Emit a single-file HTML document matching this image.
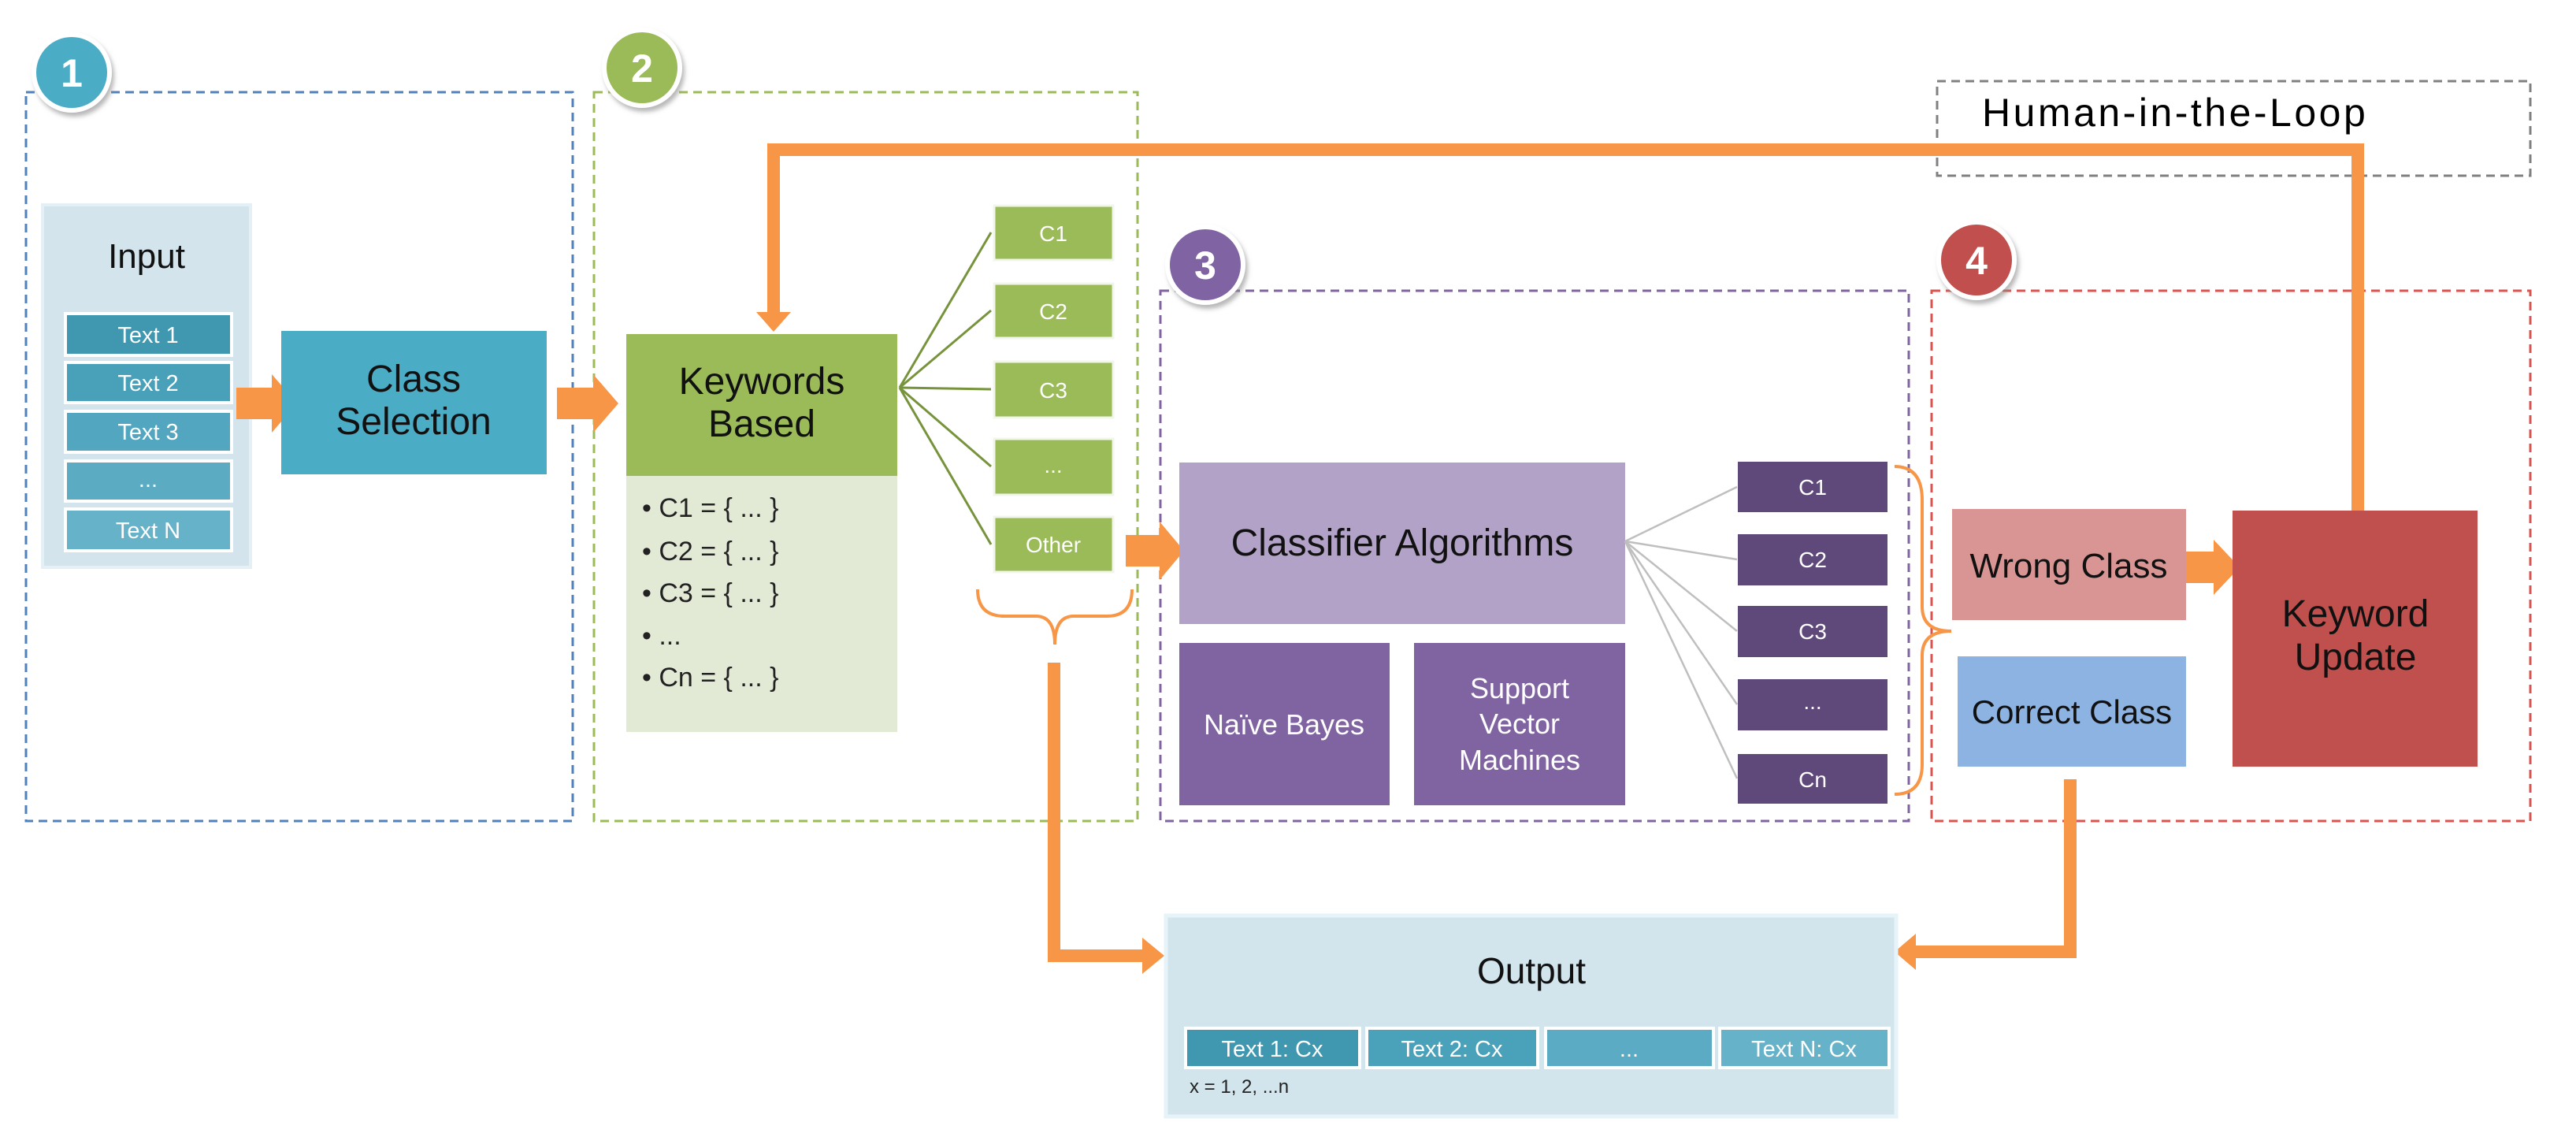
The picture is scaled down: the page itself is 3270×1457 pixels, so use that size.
<!DOCTYPE html>
<html><head><meta charset="utf-8"><style>
html,body{margin:0;padding:0;background:#fff;}
svg{display:block;}
text{font-family:"Liberation Sans",sans-serif;}
</style></head><body>
<svg width="3270" height="1457" viewBox="0 0 3270 1457" xmlns="http://www.w3.org/2000/svg">
<defs>
<filter id="sh" x="-30%" y="-30%" width="160%" height="160%"><feDropShadow dx="3" dy="5" stdDeviation="3" flood-color="#888" flood-opacity="0.6"/></filter>
</defs>
<g fill="none" stroke-width="3" stroke-dasharray="11 7">
<rect x="33" y="117" width="694" height="925" stroke="#4f81bd"/>
<rect x="754" y="117" width="690" height="925" stroke="#9bbb59"/>
<rect x="1473" y="369" width="950" height="673" stroke="#8064a2"/>
<rect x="2452" y="369" width="760" height="673" stroke="#d9534f"/>
<rect x="2459" y="103" width="753" height="120" stroke="#808080"/>
</g>
<text x="2516" y="160" font-size="50" letter-spacing="3.5" fill="#000">Human-in-the-Loop</text>

<!-- circles -->
<g filter="url(#sh)" stroke="#fff" stroke-width="6">
<circle cx="91" cy="92" r="48" fill="#4bacc6"/>
<circle cx="815" cy="86" r="48" fill="#9bbb59"/>
<circle cx="1530" cy="336" r="48" fill="#8064a2"/>
<circle cx="2509" cy="330" r="48" fill="#c0504d"/>
</g>
<g font-size="50" font-weight="bold" fill="#fff" text-anchor="middle">
<text x="91" y="110">1</text><text x="815" y="104">2</text><text x="1530" y="354">3</text><text x="2509" y="348">4</text>
</g>

<!-- Input -->
<rect x="54" y="260" width="264" height="460" fill="#d3e4ec" stroke="#e4f0f5" stroke-width="4"/>
<text x="186" y="340" font-size="44" text-anchor="middle" fill="#111">Input</text>
<g stroke="#fff" stroke-width="4">
<rect x="83" y="398" width="211" height="53" fill="#3f97b0"/>
<rect x="83" y="460" width="211" height="51" fill="#49a0b9"/>
<rect x="83" y="522" width="211" height="52" fill="#52a6bf"/>
<rect x="83" y="585" width="211" height="51" fill="#5babc3"/>
<rect x="83" y="646" width="211" height="53" fill="#66b2c9"/>
</g>
<g font-size="29" fill="#fff" text-anchor="middle">
<text x="188" y="435">Text 1</text><text x="188" y="496">Text 2</text><text x="188" y="558">Text 3</text><text x="188" y="618">...</text><text x="188" y="683">Text N</text>
</g>

<!-- block arrows -->
<g fill="#f79646">
<polygon points="300,492 345,492 345,475 377,512 345,549 345,532 300,532"/>
<polygon points="707,492 753,492 753,475 785,512 753,549 753,532 707,532"/>
<polygon points="1429,679 1472,679 1472,662 1503,699 1472,736 1472,719 1429,719"/>
<polygon points="2772,700 2810,700 2810,685 2843,720 2810,755 2810,740 2772,740"/>
</g>

<!-- Class Selection -->
<rect x="357" y="420" width="337" height="182" fill="#4bacc6"/>
<text x="525" y="497" font-size="48" text-anchor="middle" fill="#111">Class</text>
<text x="525" y="551" font-size="48" text-anchor="middle" fill="#111">Selection</text>

<!-- Keywords -->
<rect x="795" y="604" width="344" height="325" fill="#e2ead6"/>
<rect x="795" y="424" width="344" height="180" fill="#9bbb59"/>
<text x="967" y="500" font-size="48" text-anchor="middle" fill="#111">Keywords</text>
<text x="967" y="554" font-size="48" text-anchor="middle" fill="#111">Based</text>
<g font-size="34" fill="#222">
<text x="815" y="656">• C1 = { ... }</text>
<text x="815" y="711">• C2 = { ... }</text>
<text x="815" y="764">• C3 = { ... }</text>
<text x="815" y="818">• ...</text>
<text x="815" y="871">• Cn = { ... }</text>
</g>

<!-- green fan -->
<g stroke="#77933c" stroke-width="3">
<line x1="1142" y1="492" x2="1258" y2="295"/>
<line x1="1142" y1="492" x2="1258" y2="394"/>
<line x1="1142" y1="492" x2="1258" y2="494"/>
<line x1="1142" y1="492" x2="1258" y2="592"/>
<line x1="1142" y1="492" x2="1258" y2="691"/>
</g>
<g fill="#9bbb59" stroke="#f2f6ea" stroke-width="3">
<rect x="1262" y="261" width="151" height="69"/>
<rect x="1262" y="360" width="151" height="69"/>
<rect x="1262" y="459" width="151" height="71"/>
<rect x="1262" y="557" width="151" height="71"/>
<rect x="1262" y="656" width="151" height="70"/>
</g>
<g font-size="28" fill="#fff" text-anchor="middle">
<text x="1337" y="306">C1</text><text x="1337" y="405">C2</text><text x="1337" y="505">C3</text><text x="1337" y="600">...</text><text x="1337" y="701">Other</text>
</g>

<!-- braces -->
<g fill="none" stroke="#f79646" stroke-width="4">
<path d="M1241,748 Q1241,782 1275,782 L1315,782 Q1339,782 1339,818 Q1339,782 1363,782 L1405,782 Q1437,782 1437,748"/>
<path d="M2405,592 Q2440,592 2440,635 L2440,770 Q2440,801 2477,801 Q2440,801 2440,832 L2440,970 Q2440,1008 2405,1008"/>
</g>

<!-- Classifier -->
<rect x="1497" y="587" width="566" height="205" fill="#b3a2c7"/>
<text x="1780" y="705" font-size="48" text-anchor="middle" fill="#111">Classifier Algorithms</text>
<rect x="1497" y="816" width="267" height="206" fill="#8064a2"/>
<rect x="1795" y="816" width="268" height="206" fill="#8064a2"/>
<text x="1630" y="932" font-size="36" text-anchor="middle" fill="#fff">Naïve Bayes</text>
<g font-size="36" text-anchor="middle" fill="#fff">
<text x="1929" y="886">Support</text><text x="1929" y="931">Vector</text><text x="1929" y="977">Machines</text>
</g>
<g stroke="#bfbfbf" stroke-width="2.5">
<line x1="2063" y1="687" x2="2205" y2="618"/>
<line x1="2063" y1="687" x2="2205" y2="710"/>
<line x1="2063" y1="687" x2="2205" y2="801"/>
<line x1="2063" y1="687" x2="2205" y2="894"/>
<line x1="2063" y1="687" x2="2205" y2="988"/>
</g>
<g fill="#5f497a">
<rect x="2206" y="586" width="190" height="64"/>
<rect x="2206" y="678" width="190" height="65"/>
<rect x="2206" y="769" width="190" height="65"/>
<rect x="2206" y="862" width="190" height="65"/>
<rect x="2206" y="957" width="190" height="63"/>
</g>
<g font-size="28" fill="#fff" text-anchor="middle">
<text x="2301" y="628">C1</text><text x="2301" y="720">C2</text><text x="2301" y="811">C3</text><text x="2301" y="900">...</text><text x="2301" y="999">Cn</text>
</g>

<!-- Stage 4 -->
<rect x="2478" y="646" width="297" height="141" fill="#d99594"/>
<text x="2626" y="733" font-size="44" text-anchor="middle" fill="#111">Wrong Class</text>
<rect x="2485" y="833" width="290" height="140" fill="#8db3e2"/>
<text x="2630" y="918" font-size="42" text-anchor="middle" fill="#111">Correct Class</text>
<rect x="2834" y="648" width="311" height="325" fill="#c0504d"/>
<text x="2990" y="795" font-size="48" text-anchor="middle" fill="#111">Keyword</text>
<text x="2990" y="850" font-size="48" text-anchor="middle" fill="#111">Update</text>

<!-- orange connectors -->
<g fill="none" stroke="#f79646" stroke-width="16">
<polyline points="2993,648 2993,190 982,190 982,398"/>
<polyline points="1338,841 1338,1213 1452,1213"/>
<polyline points="2628,989 2628,1208 2430,1208"/>
</g>
<g fill="#f79646">
<polygon points="960,396 1004,396 982,421"/>
<polygon points="1450,1190 1450,1236 1478,1213"/>
<polygon points="2432,1185 2432,1231 2405,1208"/>
</g>

<!-- Output -->
<rect x="1480" y="1162" width="927" height="255" fill="#d2e4ec" stroke="#e6f3f8" stroke-width="5"/>
<text x="1944" y="1248" font-size="46" text-anchor="middle" fill="#111">Output</text>
<g stroke="#fff" stroke-width="4">
<rect x="1505" y="1305" width="221" height="50" fill="#3f97b0"/>
<rect x="1735" y="1305" width="217" height="50" fill="#4aa1ba"/>
<rect x="1962" y="1305" width="213" height="50" fill="#5aabc3"/>
<rect x="2183" y="1305" width="215" height="50" fill="#66b2c9"/>
</g>
<g font-size="29" fill="#fff" text-anchor="middle">
<text x="1615" y="1341">Text 1: Cx</text><text x="1843" y="1341">Text 2: Cx</text><text x="2068" y="1341">...</text><text x="2290" y="1341">Text N: Cx</text>
</g>
<text x="1510" y="1387" font-size="24" fill="#222">x = 1, 2, ...n</text>
</svg>
</body></html>
